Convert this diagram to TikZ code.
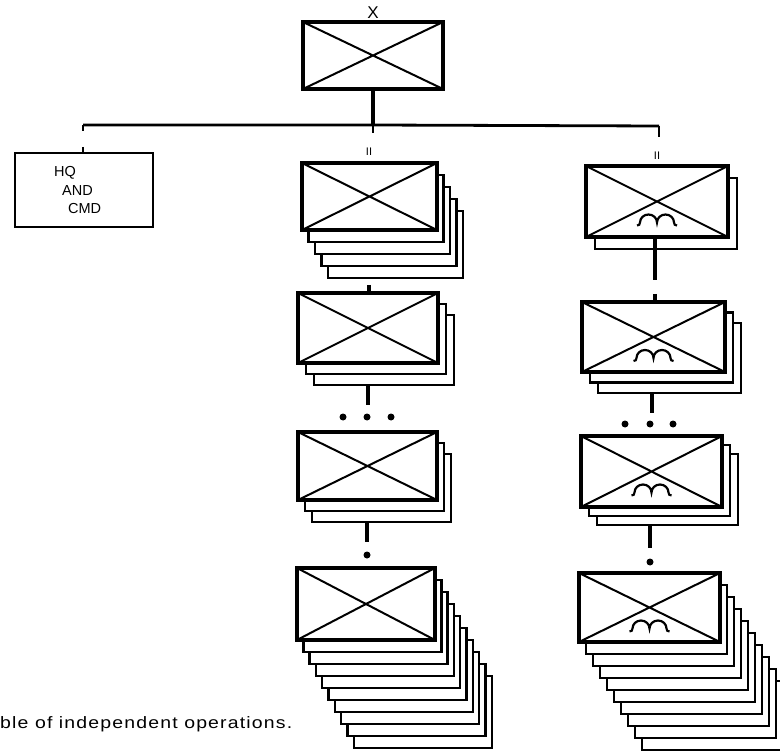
\documentclass[tikz,border=0pt]{standalone}
\usepackage{fontspec}
\setmainfont{Liberation Sans}
\newfontfamily\capfont[LetterSpace=6]{Liberation Sans}
\tikzset{
  mainbox/.style={draw, line width=3.4pt, fill=white, inner sep=0pt, outer sep=0pt},
  shadowbox/.style={draw, line width=2.4pt, fill=white},
  hqbox/.style={draw, line width=2.6pt, inner sep=0pt, outer sep=0pt},
  xline/.style={line width=2pt},
  conn/.style={line width=3.4pt},
  barline/.style={line width=2.8pt},
  airb/.style={line width=2.2pt},
  dotn/.style={circle, fill=black, inner sep=0pt, minimum size=7pt},
  lbl/.style={inner sep=0pt, font=\fontsize{17}{19}\selectfont},
  smalllbl/.style={inner sep=0pt, font=\fontsize{11}{12}\selectfont},
  hqtext/.style={inner sep=0pt, anchor=west, font=\fontsize{14.5}{16}\selectfont},
}
% #1 name, #2 left, #3 top, #4 right, #5 bottom, #6 shadows, #7 dx, #8 dy, #9 airborne
\newcommand{\unitstack}[9]{%
  \foreach \k in {#6,...,1}{%
    \draw[shadowbox] ({#2+\k*#7},{#3+\k*#8}) rectangle ({#4+\k*#7},{#5+\k*#8});}
  \node[mainbox, minimum width={(#4-#2)*1pt}, minimum height={(#5-#3)*1pt}] (#1) at ({(#2+#4)/2},{(#3+#5)/2}) {};
  \draw[xline] (#1.north west) -- (#1.south east) (#1.north east) -- (#1.south west);
  \ifnum#9=1
    \draw[airb, shift={(#1.center)}] (-20,24) .. controls (-18,24) and (-17,23) .. (-17,21)
      arc[start angle=180, end angle=360, x radius=8.5, y radius=8]
      arc[start angle=180, end angle=360, x radius=8.5, y radius=8]
      .. controls (17,23) and (18,24) .. (20,24);
  \fi
}
\begin{document}
\begin{tikzpicture}[x=1pt,y=-1pt]
\useasboundingbox (0,0) rectangle (780,754);
\clip (0,0) rectangle (780,754);

% top unit
\node[mainbox, minimum width=140pt, minimum height=67pt] (top) at (373,55.5) {};
\draw[xline] (top.north west) -- (top.south east) (top.north east) -- (top.south west);
\node[lbl] (xlab) at (373,13) {X};

% bar
\coordinate (barL) at (83,125);
\coordinate (barM) at (373,125);
\coordinate (barR) at (659,126);
\draw[barline] (barL) -- (barM) -- (barR);
\draw[conn] (top.south) -- (barM);
\coordinate (barLt) at (83,131);
\coordinate (barMt) at (373,133);
\coordinate (barRt) at (659,137);
\draw[barline] (barL) -- (barLt);
\draw[barline] (barM) -- (barMt);
\draw[barline] (barR) -- (barRt);

% HQ
\node[hqbox, minimum width=138pt, minimum height=74pt] (hq) at (84,190) {};
\coordinate (hqt) at (83,147);
\draw[barline] (hqt) -- (hq.north -| hqt);
\node[hqtext] (hq1) at (54,173) {HQ};
\node[hqtext] (hq2) at (62,191) {AND};
\node[hqtext] (hq3) at (68,209) {CMD};

% middle column
\node[smalllbl] (mlab) at (369,152) {II};
\unitstack{m1}{302}{163}{437}{230}{4}{6.5}{12}{0}
\unitstack{m2}{298}{293}{438}{363}{2}{8}{11}{0}
\coordinate (m2t) at (369,285);
\draw[conn] (m2t) -- (m2.north -| m2t);
\coordinate (m2b) at (368,385);
\coordinate (m2e) at (368,405);
\draw[conn] (m2b) -- (m2e);
\node[dotn] (md1) at (343,417) {};
\node[dotn] (md2) at (367,417) {};
\node[dotn] (md3) at (391,417) {};
\unitstack{m3}{298}{432}{437}{500}{2}{7}{11}{0}
\coordinate (m3b) at (367,522);
\coordinate (m3e) at (367,542);
\draw[conn] (m3b) -- (m3e);
\node[dotn] (md4) at (367,555) {};
\unitstack{m4}{297}{568}{435}{640}{9}{6.3}{12}{0}

% right column
\node[smalllbl] (rlab) at (657,156) {II};
\unitstack{r1}{586}{166}{728}{237}{1}{9}{12}{1}
\coordinate (r1e) at (655,280);
\draw[conn] (r1.south -| r1e) -- (r1e);
\unitstack{r2}{582}{302}{725}{372}{2}{8}{10.5}{1}
\coordinate (r2t) at (655,294);
\draw[conn] (r2t) -- (r2.north -| r2t);
\coordinate (r2b) at (652,393);
\coordinate (r2e) at (652,413);
\draw[conn] (r2b) -- (r2e);
\node[dotn] (rd1) at (625,424) {};
\node[dotn] (rd2) at (650,424) {};
\node[dotn] (rd3) at (673,424) {};
\unitstack{r3}{581}{436}{722}{507}{2}{8}{9}{1}
\coordinate (r3b) at (650,525);
\coordinate (r3e) at (650,548);
\draw[conn] (r3b) -- (r3e);
\node[dotn] (rd4) at (650,562) {};
\unitstack{r4}{579}{573}{720}{642}{9}{7}{12}{1}

% caption fragment
\node[inner sep=0pt, anchor=base west] (cap) at (0,728)
  {\resizebox{292pt}{\height}{\capfont\fontsize{16.5}{18}\selectfont ble of independent operations.}};
\end{tikzpicture}
\end{document}
